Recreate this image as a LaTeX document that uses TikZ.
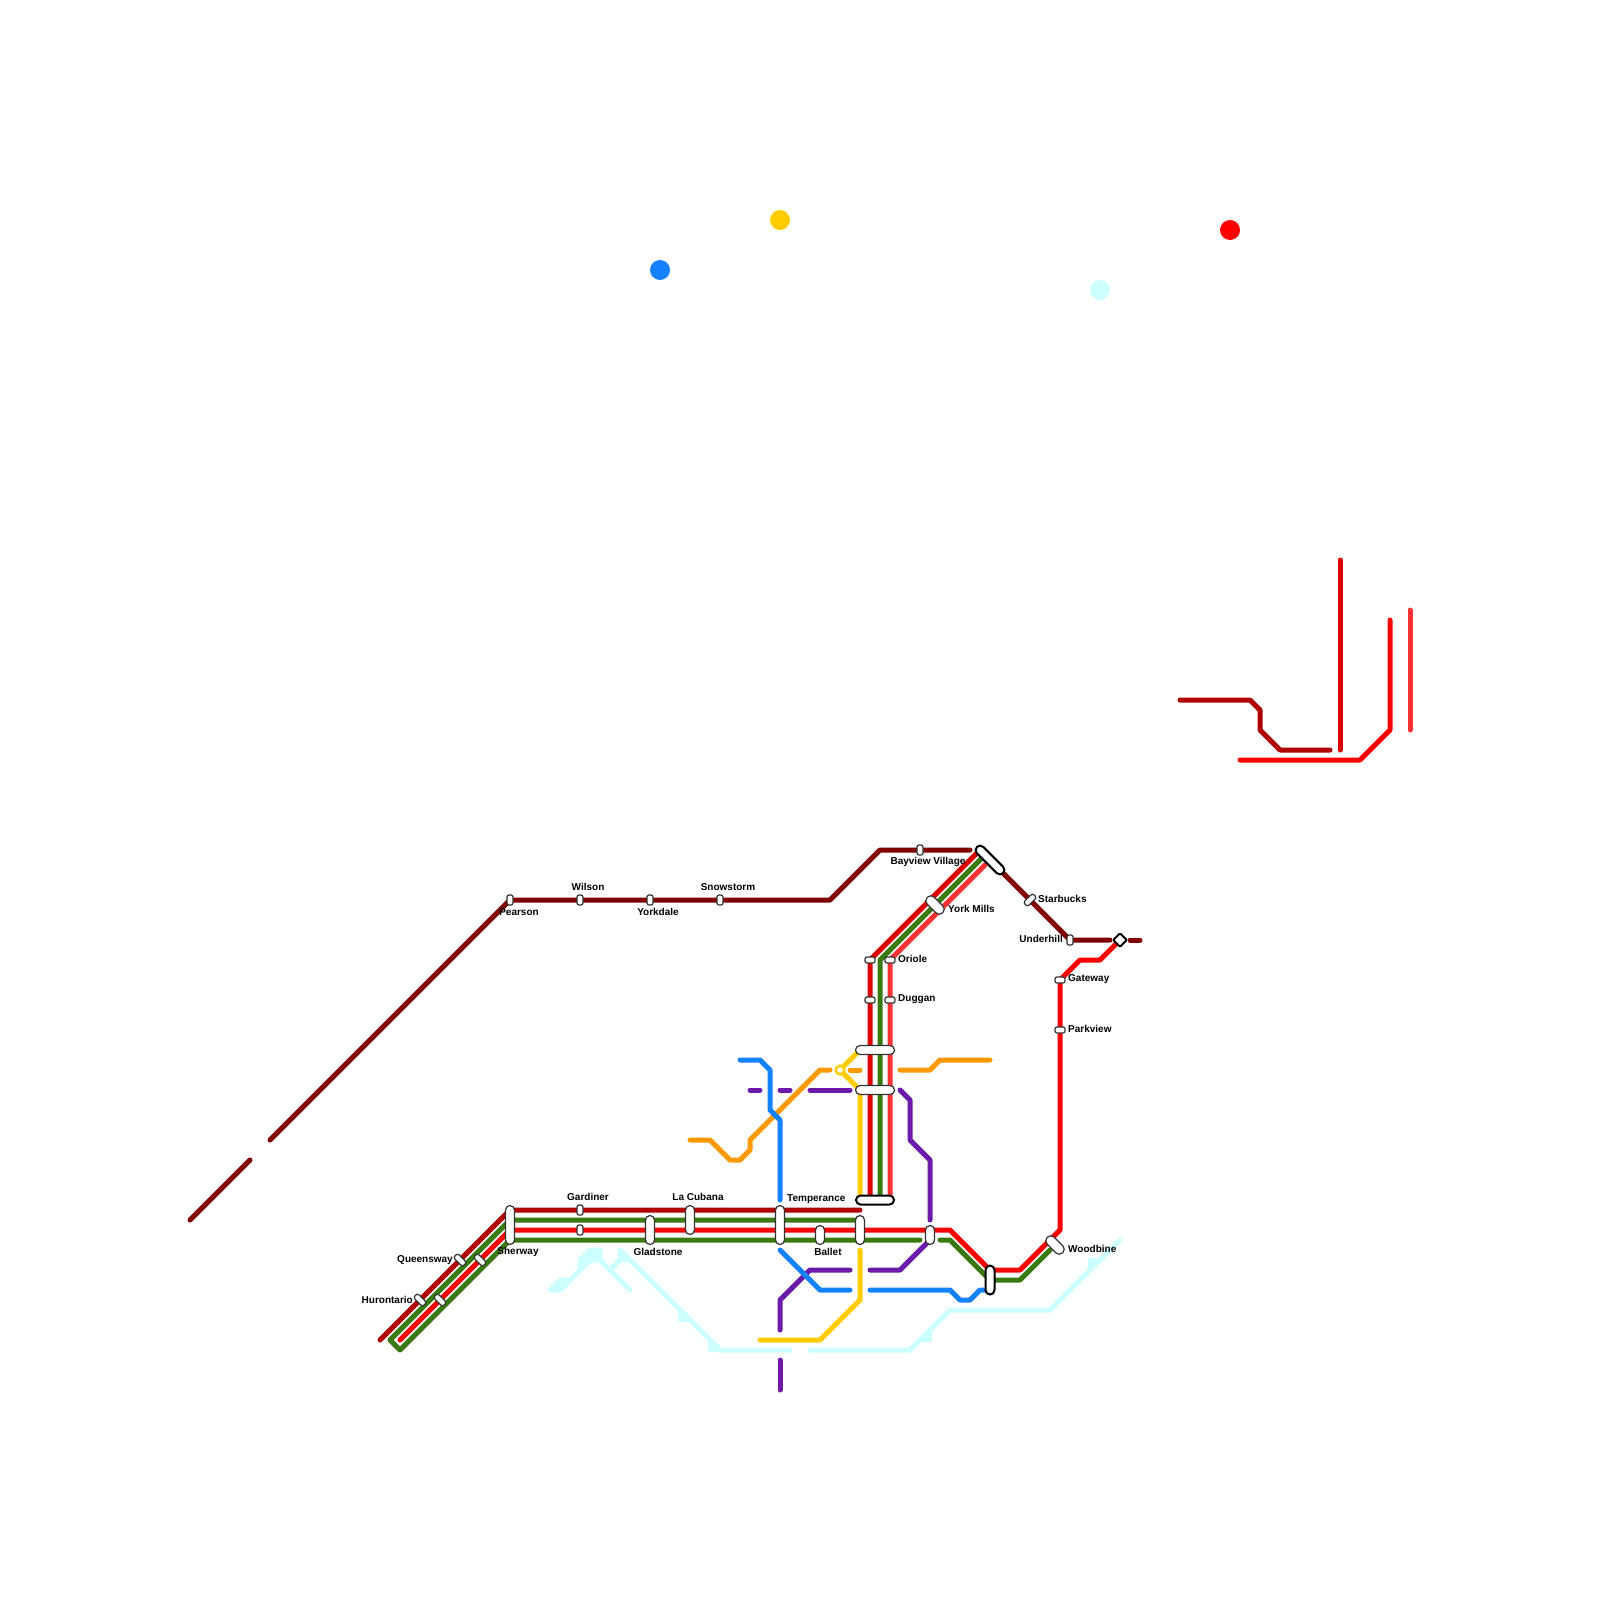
\documentclass[tikz,border=0pt]{standalone}
\usepackage{fontspec}
\setmainfont{Liberation Sans}
\definecolor{maroonline}{HTML}{800000}
\definecolor{darkline}{HTML}{B00000}
\definecolor{deepline}{HTML}{DD0000}
\definecolor{redline}{HTML}{FF0000}
\definecolor{paleline}{HTML}{FF3333}
\definecolor{greenline}{HTML}{3A7A10}
\definecolor{blueline}{HTML}{1482FF}
\definecolor{orangeline}{HTML}{FF9900}
\definecolor{yellowline}{HTML}{FFCC00}
\definecolor{purpleline}{HTML}{6C1AAA}
\definecolor{iceline}{HTML}{CCFFFF}
\begin{document}
\begin{tikzpicture}[x=1pt,y=-1pt,
  route/.style={line width=5pt,line cap=round,line join=round},
  stn/.style={draw=black!80,line width=1.2pt,fill=white,inner sep=0pt,rounded corners=2.5pt},
  big/.style={stn,rounded corners=4.5pt},
  heavy/.style={big,draw=black,line width=2pt},
  lbl/.style={font=\bfseries\fontsize{10}{12}\selectfont,inner sep=0pt}]
  \useasboundingbox (0,0) rectangle (1600,1600);
  % ice line and its spurs
  \draw[route,iceline,fill=iceline] (550,1290) -- (560,1280) -- (570,1280) -- (580,1270) -- (580,1260)
    -- (590,1250) -- (600,1250) -- (600,1260) -- (590,1260) -- (560,1290) -- cycle;
  \draw[route,iceline] (600,1260) -- (630,1290);
  \draw[route,iceline] (610,1270) -- (620,1260) -- (620,1250) -- (720,1350) -- (790,1350);
  \draw[route,iceline] (810,1350) -- (910,1350) -- (950,1310) -- (1050,1310) -- (1120,1240);
  \foreach \a/\b/\c/\d/\e/\f in {620/1250/620/1260/630/1260,680/1310/680/1320/690/1320,
      710/1340/710/1350/720/1350,930/1330/930/1340/920/1340,1090/1260/1100/1260/1090/1270}
    \draw[line width=4pt,line join=round,iceline,fill=iceline] (\a,\b) -- (\c,\d) -- (\e,\f) -- cycle;
  % purple
  \draw[route,purpleline] (750,1090) -- (760,1090);
  \draw[route,purpleline] (780,1090) -- (790,1090);
  \draw[route,purpleline] (810,1090) -- (850,1090);
  \draw[route,purpleline] (900,1090) -- (910,1100) -- (910,1140) -- (930,1160) -- (930,1220);
  \draw[route,purpleline] (930,1240) -- (900,1270) -- (870,1270);
  \draw[route,purpleline] (850,1270) -- (810,1270) -- (780,1300) -- (780,1330);
  \draw[route,purpleline] (780,1360) -- (780,1390);
  % orange
  \draw[route,orangeline] (690,1140) -- (710,1140) -- (730,1160) -- (740,1160) -- (750,1150)
    -- (750,1140) -- (820,1070) -- (830,1070);
  \draw[route,orangeline] (850,1070) -- (860,1070);
  \draw[route,orangeline] (900,1070) -- (930,1070) -- (940,1060) -- (990,1060);
  % yellow
  \draw[route,yellowline] (860,1050) -- (840,1070) -- (860,1090) -- (860,1200);
  \draw[route,yellowline] (860,1250) -- (860,1300) -- (820,1340) -- (760,1340);
  % blue
  \draw[route,blueline] (740,1060) -- (760,1060) -- (770,1070) -- (770,1110) -- (780,1120) -- (780,1200);
  \draw[route,blueline] (780,1250) -- (820,1290) -- (850,1290);
  \draw[route,blueline] (870,1290) -- (950,1290) -- (960,1300) -- (970,1300) -- (980,1290) -- (990,1290);
  % trunk lines
  \draw[route,maroonline] (190,1220) -- (250,1160);
  \draw[route,maroonline] (270,1140) -- (510,900) -- (830,900) -- (880,850) -- (970,850);
  \draw[route,maroonline] (990,860) -- (1070,940) -- (1110,940);
  \draw[route,maroonline] (1130,940) -- (1140,940);
  \draw[route,darkline] (380,1340) -- (510,1210) -- (860,1210);
  \draw[route,greenline] (860,1220) -- (510,1220) -- (390,1340) -- (400,1350) -- (510,1240) -- (920,1240);
  \draw[route,greenline] (940,1240) -- (950,1240) -- (990,1280) -- (1020,1280) -- (1050,1250);
  \draw[route,redline] (400,1340) -- (510,1230) -- (950,1230) -- (990,1270) -- (1020,1270) -- (1060,1230)
    -- (1060,980) -- (1080,960) -- (1100,960) -- (1120,940);
  \draw[route,deepline] (870,1200) -- (870,960) -- (980,850);
  \draw[route,greenline] (880,1200) -- (880,960) -- (985,855);
  \draw[route,paleline] (890,1200) -- (890,960) -- (985,865);
  % upper right fragments
  \draw[route,darkline] (1180,700) -- (1250,700) -- (1260,710) -- (1260,730) -- (1280,750) -- (1330,750);
  \draw[route,deepline] (1340,560) -- (1340,750);
  \draw[route,redline] (1240,760) -- (1360,760) -- (1390,730) -- (1390,620);
  \draw[route,paleline] (1410,610) -- (1410,730);
  % legend dots
  \foreach \n/\x/\y/\c in {dotblue/660/270/blueline,dotyellow/780/220/yellowline,
      dotred/1230/230/redline,dotice/1100/290/iceline}
    \fill[\c] (\x,\y) circle (10) coordinate (\n);
  % small stations
  \foreach \n/\x/\y/\w/\h in {pearson/510/900/6/10,wilson/580/900/6/10,yorkdale/650/900/6/10,
      snowstorm/720/900/6/10,bayview/920/850/6/10,gardiner/580/1210/6/10,gardinerb/580/1230/6/10,
      underhill/1070/940/6/10,orioleb/870/960/10/6,oriole/890/960/10/6,dugganb/870/1000/10/6,
      duggan/890/1000/10/6,gateway/1060/980/10/6,parkview/1060/1030/10/6}
    \node[stn,rounded corners=2pt,minimum width=\w pt,minimum height=\h pt] (\n) at (\x,\y) {};
  \foreach \n/\x/\y/\r in {queensway/460/1260/-45,queenswayb/480/1260/-45,hurontario/420/1300/-45,
      hurontariob/440/1300/-45,starbucks/1030/900/45}
    \node[stn,rotate=\r,minimum width=13pt,minimum height=6pt] (\n) at (\x,\y) {};
  % large stations
  \foreach \n/\x/\y/\w/\h in {sherway/510/1225/9/39,gladstone/650/1230/9/29,cubana/690/1220/9/29,
      temperance/780/1225/9/39,ballet/820/1235/9/19,eastgate/860/1230/9/29,crossing/930/1235/9/19,
      upperhub/875/1050/39/9,lowerhub/875/1090/39/9}
    \node[big,minimum width=\w pt,minimum height=\h pt] (\n) at (\x,\y) {};
  \node[big,rounded corners=5pt,rotate=-45,minimum width=22pt,minimum height=10pt] (yorkmills) at (935,905) {};
  \node[big,rounded corners=5pt,rotate=-45,minimum width=22pt,minimum height=10pt] (woodbine) at (1055,1245) {};
  \node[heavy,minimum width=38pt,minimum height=9pt] (southhub) at (875,1200) {};
  \node[heavy,minimum width=9pt,minimum height=29pt] (eastjoin) at (990,1280) {};
  \node[heavy,rotate=-45,minimum width=37pt,minimum height=9pt] (northhub) at (990,860) {};
  \node[stn,draw=black,line width=2pt,rounded corners=1pt,rotate=45,minimum size=9.5pt] (terminal) at (1120,940) {};
  \node[circle,draw=yellowline,line width=2.5pt,fill=white,inner sep=0pt,minimum size=8.5pt] (transfer) at (840,1070) {};
  % labels
  \foreach \n/\x/\y/\t in {pearsonlbl/519/912/Pearson,wilsonlbl/588/887/Wilson,yorkdalelbl/658/912/Yorkdale,
      snowstormlbl/728/887/Snowstorm,bayviewlbl/928/862/Bayview Village,gardinerlbl/588/1197/Gardiner,
      sherwaylbl/518/1252/Sherway,gladstonelbl/658/1252/Gladstone,cubanalbl/698/1197/La Cubana,
      balletlbl/828/1252/Ballet}
    \node[lbl] (\n) at (\x,\y) {\t};
  \foreach \n/\x/\y/\t in {temperancelbl/787/1199/Temperance,woodbinelbl/1068/1249/Woodbine,
      yorkmillslbl/948/909/York Mills,starbuckslbl/1038/899/Starbucks,oriolelbl/898/959/Oriole,
      dugganlbl/898/999/Duggan,gatewaylbl/1068/979/Gateway,parkviewlbl/1068/1029/Parkview}
    \node[lbl,anchor=west] (\n) at (\x,\y) {\t};
  \foreach \n/\x/\y/\t in {queenswaylbl/453/1260/Queensway,hurontariolbl/413/1300/Hurontario,
      underhilllbl/1063/939/Underhill}
    \node[lbl,anchor=east] (\n) at (\x,\y) {\t};
\end{tikzpicture}
\end{document}
